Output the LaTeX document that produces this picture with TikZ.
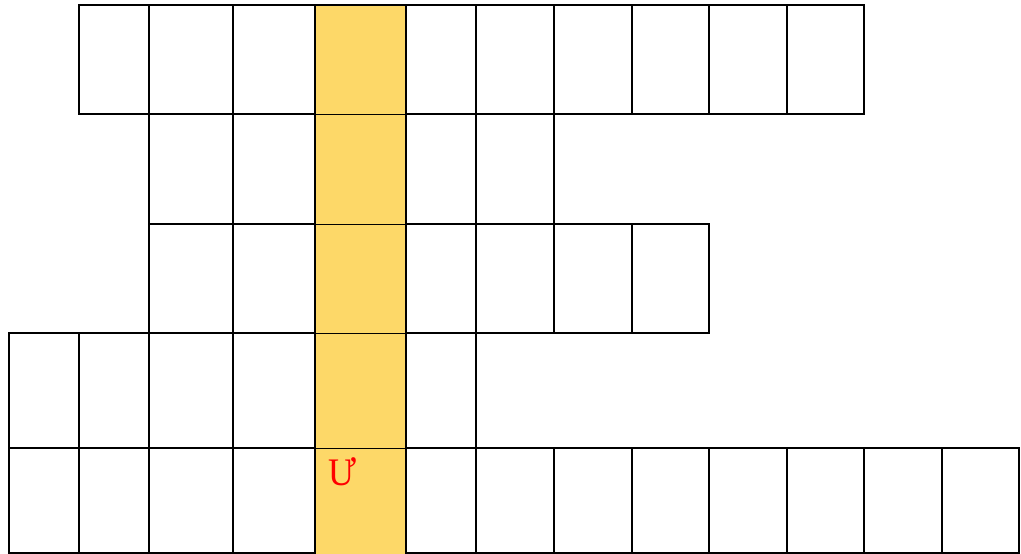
\documentclass[tikz,border=0pt]{standalone}
\usepackage{fontspec}
\setmainfont{Liberation Serif}
\definecolor{hl}{HTML}{FDD868}
\definecolor{letter}{HTML}{FF0000}
\tikzset{
  grid line/.style={line width=2pt, black, line cap=rect},
  thin line/.style={line width=1pt, black},
  mark letter/.style={inner sep=0pt, text=letter, font=\fontsize{39}{39}\selectfont, xscale=0.92, anchor=base west}
}
\begin{document}
\begin{tikzpicture}[x=1pt, y=-1pt]
\useasboundingbox (0,0) rectangle (1021,554);
% rows: top/bottom/list of vertical x positions
\foreach \ya/\yb/\xl in {
  5/114/{79,149,233,315,406,476,554,632,709,787,864},
  114/224/{149,233,315,406,476,554},
  224/333/{149,233,315,406,476,554,632,709},
  333/448/{9,79,149,233,315,406,476},
  448/553/{9,79,149,233,315,406,476,554,632,709,787,864,942,1019}}{
  \foreach \x [count=\i] in \xl {
    \ifnum\i=1 \xdef\xfirst{\x}\fi
    \xdef\xlast{\x}
    \draw[grid line] (\x,\ya) -- (\x,\yb);
  }
  \draw[grid line] (\xfirst,\ya) -- (\xlast,\ya);
  \draw[grid line] (\xfirst,\yb) -- (\xlast,\yb);
}
% highlighted column
\fill[hl] (316,6) rectangle (405,554);
\foreach \y in {114,224,333,448}
  \draw[thin line] (316,\y) -- (405,\y);
\node[mark letter] (u) at (328.5,485) {Ư};
\end{tikzpicture}
\end{document}
